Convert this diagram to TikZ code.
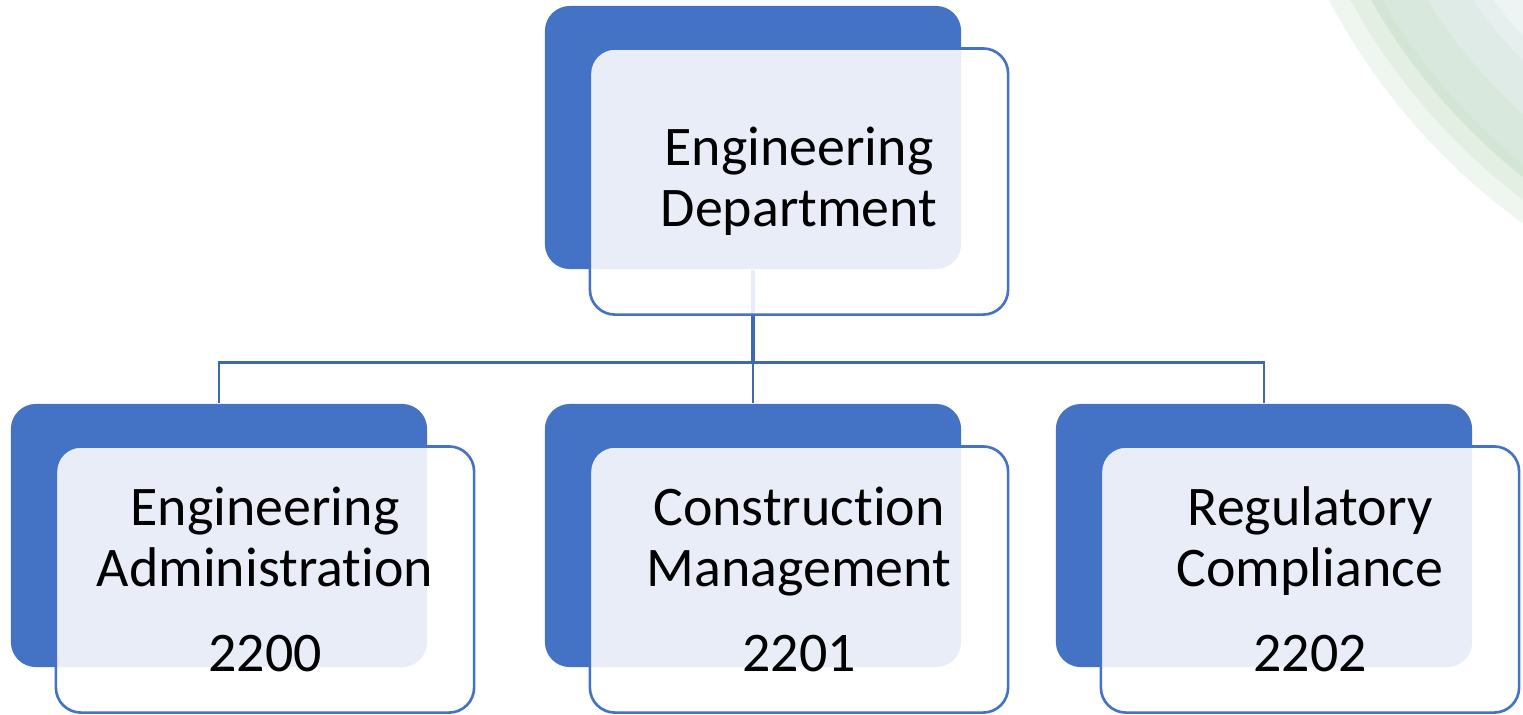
\documentclass[tikz,border=0pt]{standalone}
\usepackage{fontspec}
\setmainfont{Carlito}[Ligatures=NoCommon]
\definecolor{boxblue}{HTML}{4472C4}
\definecolor{linkblue}{HTML}{3F68B2}
\definecolor{greenA}{HTML}{EFF5EF}
\definecolor{greenB}{HTML}{E4EFE4}
\definecolor{greenC}{HTML}{D3E5D5}
\definecolor{greenD}{HTML}{D9E8DC}
\definecolor{greenE}{HTML}{DFEBE6}
\definecolor{greenF}{HTML}{E7EFEE}
\definecolor{greenG}{HTML}{EEF4F3}

\begin{document}
\begin{tikzpicture}[x=0.01cm, y=-0.01cm,
    back/.style = {fill=boxblue, rounded corners=0.25cm, minimum width=4.16cm, minimum height=2.63cm},
    front/.style = {draw=boxblue, line width=0.75pt, fill=white, fill opacity=0.88, text opacity=1,
        rounded corners=0.25cm, minimum width=4.18cm, minimum height=2.66cm,
        align=center, font=\fontsize{15.9}{17.4}\selectfont},
    link/.style = {draw=linkblue, line width=0.75pt}]
	\useasboundingbox (0,0) rectangle (1523,714);

	% background arcs
	\begin{scope}
		\clip (0,0) rectangle (1523,714);
		\fill[greenA] (1900,-300) circle[radius=645];
		\fill[greenB] (1900,-300) circle[radius=626];
		\fill[greenC] (1900,-300) circle[radius=608];
		\fill[greenD] (1900,-300) circle[radius=598];
		\fill[greenE] (1900,-300) circle[radius=560];
		\fill[greenF] (1900,-300) circle[radius=522];
		\fill[greenG] (1900,-300) circle[radius=505];
	\end{scope}

	\node[back] (dept) at (753,137.5) {};
	\node[back] (adm) at (219,535.5) {};
	\node[back] (con) at (753,535.5) {};
	\node[back] (reg) at (1264,535.5) {};

	\draw[link, line width=1pt] (dept.south) -- ++(0,93) coordinate (bus);
	\draw[link] (bus) -| (adm.north);
	\draw[link] (bus) -- (con.north);
	\draw[link] (bus) -| (reg.north);

	\node[front] (deptF) at (799,181.5) {Engineering\\Department};
	\node[front] (admF) at (265,579.5) {Engineering\\Administration\\[6.8pt]2200};
	\node[front] (conF) at (799,579.5) {Construction\\Management\\[6.8pt]2201};
	\node[front] (regF) at (1310,579.5) {Regulatory\\Compliance\\[6.8pt]2202};
\end{tikzpicture}
\end{document}
